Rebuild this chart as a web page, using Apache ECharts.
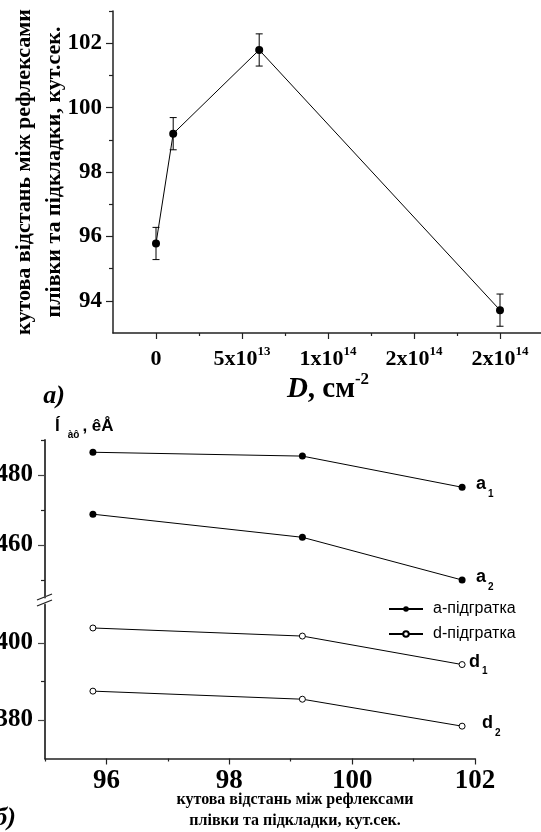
<!DOCTYPE html>
<html>
<head>
<meta charset="utf-8">
<script src="https://cdn.jsdelivr.net/npm/echarts@6/dist/echarts.min.js"></script>
<style>
  html, body { margin: 0; padding: 0; background: #fff; }
  #chart { width: 541px; height: 832px; }
</style>
</head>
<body>
<div id="chart"></div>
<script>
// ---- Panel (а): angular separation vs dose ----
const dose = [0, 1e13, 6e13, 2e14];
const angle = [95.78, 99.19, 101.79, 93.71];
const angleErr = [0.5, 0.5, 0.5, 0.5];
const doseTicks = [0, 5e13, 1e14, 1.5e14, 2e14];
const doseTickMantissa = ['0', '5x10', '1x10', '2x10', '2x10'];
const doseTickExp = ['', '13', '14', '14', '14'];
const doseMinorTicks = [2.5e13, 7.5e13, 1.25e14, 1.75e14];
const angleTicks = [94, 96, 98, 100, 102];
const angleMinorTicks = [95, 97, 99, 101, 103];

// ---- Panel (б): lattice parameters vs angular separation ----
const sepX = [95.78, 99.19, 101.79];
const a1 = [486.5, 485.4, 476.5];
const a2 = [468.8, 462.2, 450.0];
const d1 = [403.9, 401.8, 394.4];
const d2 = [387.5, 385.4, 378.4];
const sepTicks = [96, 98, 100, 102];
const sepMinorTicks = [95, 97, 99, 101];
const upperTicks = [460, 480];
const upperMinorTicks = [450, 470, 490];
const lowerTicks = [380, 400];
const lowerMinorTicks = [390];

const SERIF = 'Liberation Serif';
const SANS = 'Liberation Sans';
const AXIS_COLOR = '#222';

const pairs = (xs, ys) => xs.map((x, i) => [x, ys[i]]);

function majorAxis(extra) {
  return Object.assign({
    type: 'value',
    splitLine: { show: false },
    axisLine: { show: true, onZero: false, lineStyle: { color: AXIS_COLOR, width: 1.5 } },
    axisTick: { show: true, inside: false, length: 6, lineStyle: { color: AXIS_COLOR, width: 1.2 } },
    axisLabel: { show: true, color: '#000', fontFamily: SERIF, fontWeight: 'bold' }
  }, extra);
}
function minorAxis(extra, ticks, len) {
  return Object.assign({
    type: 'value',
    splitLine: { show: false },
    axisLine: { show: false, onZero: false },
    axisLabel: { show: false },
    axisTick: { show: true, inside: false, length: len, customValues: ticks, lineStyle: { color: AXIS_COLOR, width: 1.2 } }
  }, extra);
}

function subLabel(letter, idx, dist) {
  return {
    show: true, distance: dist, formatter: '{m|' + letter + '}{s|' + idx + '}',
    rich: {
      m: { fontFamily: SANS, fontWeight: 'bold', fontSize: 18, color: '#000', verticalAlign: 'bottom', padding: [0, 0, 6, 0] },
      s: { fontFamily: SANS, fontWeight: 'bold', fontSize: 10, color: '#000', verticalAlign: 'bottom', padding: [0, 0, 0, 2] }
    }
  };
}

const chart = echarts.init(document.getElementById('chart'), null, { renderer: 'canvas' });

const option = {
  animation: false,
  backgroundColor: '#fff',
  grid: [
    { left: 113, top: 11, width: 430, height: 322, outerBoundsMode: 'none', containLabel: false },
    { left: 45, top: 440, width: 430, height: 157.5, outerBoundsMode: 'none', containLabel: false },
    { left: 45, top: 604.5, width: 430, height: 154, outerBoundsMode: 'none', containLabel: false }
  ],
  xAxis: [
    majorAxis({
      gridIndex: 0, position: 'bottom', min: -2.5e13, max: 2.25e14,
      axisTick: { show: true, length: 6, customValues: doseTicks, lineStyle: { color: AXIS_COLOR, width: 1.2 } },
      axisLabel: {
        show: true, margin: 10, customValues: doseTicks,
        formatter: function (v) {
          const i = doseTicks.findIndex(t => Math.abs(t - v) < 1e9);
          if (i < 0) return '';
          return doseTickExp[i] ? '{n|' + doseTickMantissa[i] + '}{e|' + doseTickExp[i] + '}' : '{n|' + doseTickMantissa[i] + '}';
        },
        rich: {
          n: { fontFamily: SERIF, fontWeight: 'bold', fontSize: 22, color: '#000', verticalAlign: 'bottom', lineHeight: 27 },
          e: { fontFamily: SERIF, fontWeight: 'bold', fontSize: 13, color: '#000', verticalAlign: 'bottom', lineHeight: 14, padding: [0, 0, 12, 0] }
        }
      },
      name: '{d|D}{n|, см}{e|-2}',
      nameLocation: 'middle',
      nameGap: 39,
      nameMoveOverlap: false,
      nameTextStyle: {
        rich: {
          d: { fontFamily: SERIF, fontWeight: 'bold', fontStyle: 'italic', fontSize: 29, color: '#000', verticalAlign: 'bottom', lineHeight: 32 },
          n: { fontFamily: SERIF, fontWeight: 'bold', fontSize: 29, color: '#000', verticalAlign: 'bottom', lineHeight: 32 },
          e: { fontFamily: SERIF, fontWeight: 'bold', fontSize: 17, color: '#000', verticalAlign: 'bottom', lineHeight: 17, padding: [0, 0, 16, 0] }
        }
      }
    }),
    minorAxis({ gridIndex: 0, position: 'bottom', min: -2.5e13, max: 2.25e14 }, doseMinorTicks, 3),
    { type: 'value', gridIndex: 1, min: 95, max: 102, show: false },
    majorAxis({
      gridIndex: 2, position: 'bottom', min: 95, max: 102,
      axisTick: { show: true, length: 6, customValues: sepTicks, lineStyle: { color: AXIS_COLOR, width: 1.2 } },
      axisLabel: { show: true, margin: 9, customValues: sepTicks, fontFamily: SERIF, fontWeight: 'bold', fontSize: 27, color: '#000' }
    }),
    minorAxis({ gridIndex: 2, position: 'bottom', min: 95, max: 102 }, sepMinorTicks, 3)
  ],
  yAxis: [
    majorAxis({
      gridIndex: 0, position: 'left', min: 93, max: 103,
      axisTick: { show: true, length: 7, customValues: angleTicks, lineStyle: { color: AXIS_COLOR, width: 1.2 } },
      axisLabel: { show: true, margin: 11, customValues: angleTicks, fontFamily: SERIF, fontWeight: 'bold', fontSize: 23, color: '#000' },
      name: 'кутова відстань між рефлексами\nплівки та підкладки, кут.сек.',
      nameLocation: 'middle',
      nameRotate: 90,
      nameGap: 44,
      nameMoveOverlap: false,
      nameTextStyle: { fontFamily: SERIF, fontWeight: 'bold', fontSize: 22, lineHeight: 30, color: '#000', align: 'center' }
    }),
    minorAxis({ gridIndex: 0, position: 'left', min: 93, max: 103 }, angleMinorTicks, 4),
    majorAxis({
      gridIndex: 1, position: 'left', min: 445, max: 490,
      axisLine: { show: true, onZero: false, lineStyle: { color: '#444', width: 2 } },
      axisTick: { show: true, length: 7, customValues: upperTicks, lineStyle: { color: '#444', width: 1.2 } },
      axisLabel: { show: true, margin: 12, customValues: upperTicks, fontFamily: SERIF, fontWeight: 'bold', fontSize: 25, color: '#000' }
    }),
    minorAxis({ gridIndex: 1, position: 'left', min: 445, max: 490 }, upperMinorTicks, 4),
    majorAxis({
      gridIndex: 2, position: 'left', min: 370, max: 410,
      axisLine: { show: true, onZero: false, lineStyle: { color: '#444', width: 2 } },
      axisTick: { show: true, length: 7, customValues: lowerTicks, lineStyle: { color: '#444', width: 1.2 } },
      axisLabel: { show: true, margin: 12, customValues: lowerTicks, fontFamily: SERIF, fontWeight: 'bold', fontSize: 25, color: '#000' }
    }),
    minorAxis({ gridIndex: 2, position: 'left', min: 370, max: 410 }, lowerMinorTicks, 4)
  ],
  legend: {
    data: ['a-підгратка', 'd-підгратка'],
    orient: 'vertical',
    left: 383, top: 596,
    itemWidth: 34, itemHeight: 7, itemGap: 9,
    textStyle: { fontFamily: SANS, fontSize: 16, color: '#000', padding: [0, 0, 0, 5] }
  },
  graphic: [
    // axis break marks on the lower panel's value axis
    { type: 'line', shape: { x1: 37, y1: 600, x2: 52, y2: 594 }, style: { stroke: '#222', lineWidth: 1.3 } },
    { type: 'line', shape: { x1: 37, y1: 606, x2: 52, y2: 600 }, style: { stroke: '#222', lineWidth: 1.3 } },
    { type: 'text', x: 54, y: 396, style: { text: 'а)', fontFamily: SERIF, fontWeight: 'bold', fontStyle: 'italic', fontSize: 26, fill: '#000', textAlign: 'center', textVerticalAlign: 'middle' } },
    { type: 'text', x: 5, y: 818, style: { text: 'б)', fontFamily: SERIF, fontWeight: 'bold', fontStyle: 'italic', fontSize: 26, fill: '#000', textAlign: 'center', textVerticalAlign: 'middle' } },
    { type: 'text', x: 295, y: 800, style: { text: 'кутова відстань між рефлексами', fontFamily: SERIF, fontWeight: 'bold', fontSize: 16, fill: '#000', textAlign: 'center', textVerticalAlign: 'middle' } },
    { type: 'text', x: 295, y: 821, style: { text: 'плівки та підкладки, кут.сек.', fontFamily: SERIF, fontWeight: 'bold', fontSize: 16, fill: '#000', textAlign: 'center', textVerticalAlign: 'middle' } },
    {
      type: 'text', x: 55, y: 418,
      style: {
        text: '{b|Í}{s|àô}{b|, êÅ}',
        rich: {
          b: { fontFamily: SANS, fontWeight: 'bold', fontSize: 17, fill: '#000', verticalAlign: 'bottom', padding: [0, 0, 5, 0] },
          s: { fontFamily: SANS, fontWeight: 'bold', fontSize: 10, fill: '#000', verticalAlign: 'bottom', padding: [0, 3, 0, 8] }
        }
      }
    }
  ],
  series: [
    {
      type: 'custom',
      xAxisIndex: 0, yAxisIndex: 0,
      encode: { x: 0, y: [1, 2] },
      data: dose.map((d, i) => [d, angle[i] - angleErr[i], angle[i] + angleErr[i]]),
      renderItem: function (params, api) {
        const x = api.value(0);
        const lo = api.coord([x, api.value(1)]);
        const hi = api.coord([x, api.value(2)]);
        const w = 3.5;
        const st = { stroke: '#000', lineWidth: 1 };
        return {
          type: 'group',
          children: [
            { type: 'line', shape: { x1: lo[0], y1: lo[1], x2: hi[0], y2: hi[1] }, style: st },
            { type: 'line', shape: { x1: lo[0] - w, y1: lo[1], x2: lo[0] + w, y2: lo[1] }, style: st },
            { type: 'line', shape: { x1: hi[0] - w, y1: hi[1], x2: hi[0] + w, y2: hi[1] }, style: st }
          ]
        };
      },
      z: 1
    },
    {
      type: 'line', name: 'angle',
      xAxisIndex: 0, yAxisIndex: 0,
      data: pairs(dose, angle),
      symbol: 'circle', symbolSize: 8,
      itemStyle: { color: '#000' },
      lineStyle: { color: '#000', width: 1 },
      z: 3
    },
    {
      type: 'line', name: 'a-підгратка',
      xAxisIndex: 2, yAxisIndex: 2,
      data: pairs(sepX, a1),
      symbol: 'circle', symbolSize: 7,
      itemStyle: { color: '#000' },
      lineStyle: { color: '#000', width: 1 },
      endLabel: subLabel('a', 1, 14)
    },
    {
      type: 'line', name: 'a-підгратка',
      xAxisIndex: 2, yAxisIndex: 2,
      data: pairs(sepX, a2),
      symbol: 'circle', symbolSize: 7,
      itemStyle: { color: '#000' },
      lineStyle: { color: '#000', width: 1 },
      endLabel: subLabel('a', 2, 14)
    },
    {
      type: 'line', name: 'd-підгратка',
      xAxisIndex: 3, yAxisIndex: 4,
      data: pairs(sepX, d1),
      symbol: 'circle', symbolSize: 6,
      itemStyle: { color: '#fff', borderColor: '#000', borderWidth: 1 },
      lineStyle: { color: '#000', width: 1 },
      endLabel: subLabel('d', 1, 7)
    },
    {
      type: 'line', name: 'd-підгратка',
      xAxisIndex: 3, yAxisIndex: 4,
      data: pairs(sepX, d2),
      symbol: 'circle', symbolSize: 6,
      itemStyle: { color: '#fff', borderColor: '#000', borderWidth: 1 },
      lineStyle: { color: '#000', width: 1 },
      endLabel: subLabel('d', 2, 20)
    }
  ]
};

chart.setOption(option);
</script>
</body>
</html>
